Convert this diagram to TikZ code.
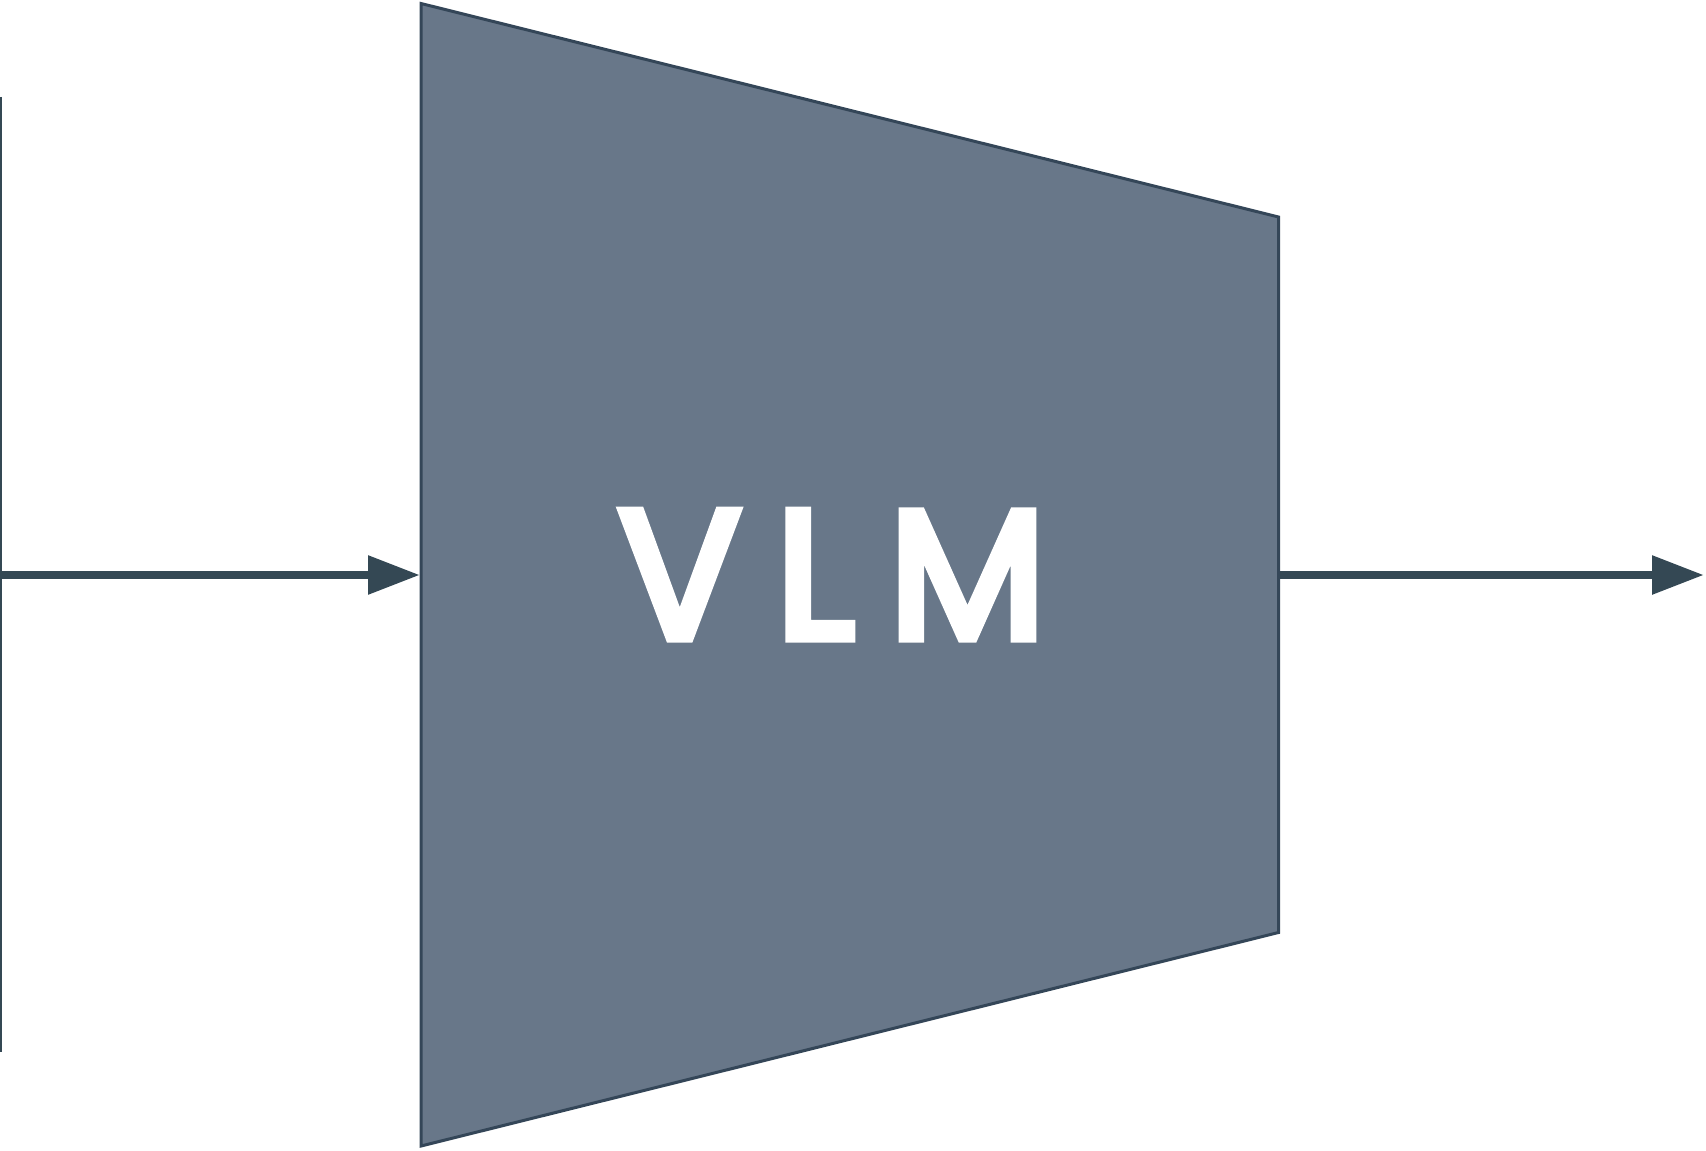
\documentclass[tikz,border=0pt]{standalone}
\usepackage{fontspec}
\setmainfont{Poppins}
\newfontfamily\labelfont{Poppins}[FakeBold=5]
\usetikzlibrary{arrows.meta}
\definecolor{blockfill}{RGB}{104,119,137}
\definecolor{blockedge}{RGB}{52,70,88}
\definecolor{wire}{RGB}{52,72,84}
\tikzset{
  block/.style={fill=blockfill, draw=blockedge, line width=1.5pt, line join=miter},
  flow/.style={draw=wire, line width=4.4pt, -{Triangle[length=26pt,width=18.5pt]}},
  bar/.style={draw=wire, line width=1.2pt},
}
\begin{document}
\begin{tikzpicture}[x=0.5pt,y=-0.5pt]
  \useasboundingbox (0,0) rectangle (1706,1150);
  % encoder / model block as a trapezoid
  \draw[block] (421,3.5) -- (1278.5,217) -- (1278.5,932.5) -- (421,1146) -- cycle;
  \node[text=white, font=\labelfont\fontsize{91}{96}\selectfont, inner sep=0pt] (vlm) at (832,574.5) {V\hspace{0.19em}L\hspace{0.19em}M};
  % input bar
  \coordinate (bartop) at (1,97);
  \coordinate (barbot) at (1,1052);
  \draw[bar] (bartop) -- (barbot);
  \coordinate (inA) at (1,575);
  \coordinate (inB) at (420,575);
  \coordinate (outA) at (1280,575);
  \coordinate (outB) at (1704,575);
  \draw[flow] (inA) -- (inB);
  \draw[flow] (outA) -- (outB);
\end{tikzpicture}
\end{document}
